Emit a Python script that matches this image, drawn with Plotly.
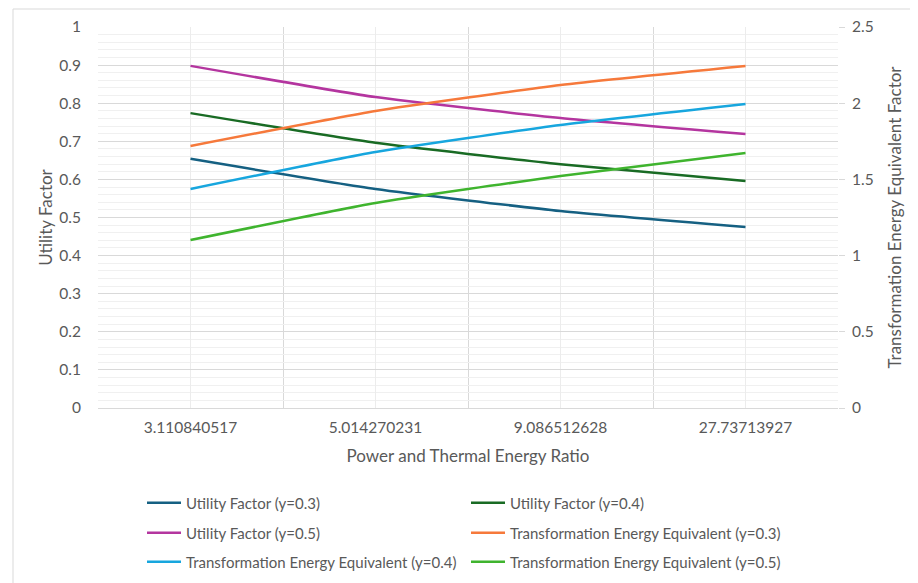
import plotly.graph_objects as go

categories = ["3.110840517", "5.014270231", "9.086512628", "27.73713927"]

uf_y03 = [0.654, 0.575, 0.517, 0.475]
uf_y04 = [0.774, 0.696, 0.640, 0.596]
uf_y05 = [0.898, 0.816, 0.761, 0.719]
tee_y03 = [1.719, 1.949, 2.119, 2.244]
tee_y04 = [1.437, 1.680, 1.857, 1.995]
tee_y05 = [1.102, 1.345, 1.522, 1.673]

left_ticks = [0, 0.1, 0.2, 0.3, 0.4, 0.5, 0.6, 0.7, 0.8, 0.9, 1]
right_ticks = [0, 0.5, 1, 1.5, 2, 2.5]

# page body margin offset
OFF = 8
W, H = 918 - OFF, 583 - OFF
# plot area in screen pixels: x 98..838, y 27..408
L, R, T, B = 98 - OFF, W - (838 - OFF), 27 - OFF, H - (408 - OFF)
PW, PH = W - L - R, H - T - B

def px_x(sx):
    return (sx - OFF - L) / PW

def px_y(sy):
    return (H - B - (sy - OFF)) / PH

FONT = "Lato"
GRAY = "#595959"

xpos = list(range(len(categories)))

series = [
    ("Utility Factor (y=0.3)", uf_y03, "#156082", "y", "legend"),
    ("Utility Factor (y=0.4)", uf_y04, "#196B24", "y", "legend"),
    ("Utility Factor (y=0.5)", uf_y05, "#B4359F", "y", "legend2"),
    ("Transformation Energy Equivalent (y=0.3)", tee_y03, "#F6793B", "y2", "legend2"),
    ("Transformation Energy Equivalent (y=0.4)", tee_y04, "#17A6DE", "y2", "legend3"),
    ("Transformation Energy Equivalent (y=0.5)", tee_y05, "#3FB42E", "y2", "legend3"),
]

fig = go.Figure()
for name, vals, color, yax, leg in series:
    fig.add_trace(go.Scatter(
        x=xpos, y=vals, name=name, mode="lines", yaxis=yax, legend=leg,
        line=dict(color=color, width=2.5, shape="spline", smoothing=0.5),
    ))

legend_common = dict(
    orientation="h", xanchor="left", yanchor="middle",
    font=dict(family=FONT, size=15, color=GRAY),
    entrywidth=275, entrywidthmode="pixels",
    bgcolor="rgba(0,0,0,0)", itemwidth=34,
)
fig.update_layout(
    width=W, height=H,
    margin=dict(l=L, r=R, t=T, b=B, autoexpand=False),
    paper_bgcolor="white", plot_bgcolor="white",
    font=dict(family=FONT, size=15, color=GRAY),
    xaxis=dict(
        range=[-0.5, 3.5], tickmode="array", tickvals=xpos, ticktext=categories,
        showgrid=True, gridcolor="#ececec", gridwidth=1,
        minor=dict(tickmode="array", tickvals=[-0.5, 0.5, 1.5, 2.5, 3.5],
                   showgrid=True, gridcolor="#d9d9d9", gridwidth=1, ticks=""),
        showline=True, linecolor="#d9d9d9", linewidth=1,
        ticks="", ticklabelstandoff=5, zeroline=False,
        tickfont=dict(family=FONT, size=15.5, color=GRAY),
        title=dict(text="Power and Thermal Energy Ratio", standoff=15,
                   font=dict(family=FONT, size=17, color=GRAY)),
    ),
    yaxis=dict(
        range=[0, 1], tickmode="array", tickvals=left_ticks,
        ticktext=[f"{v:g}" for v in left_ticks],
        showgrid=True, gridcolor="#d9d9d9", gridwidth=1,
        minor=dict(dtick=0.02, showgrid=True, gridcolor="#f0f0f0", gridwidth=1),
        zeroline=False, showline=False, ticks="", ticklabelstandoff=16,
        tickfont=dict(family=FONT, size=15.5, color=GRAY),
        title=dict(text="Utility Factor", standoff=2,
                   font=dict(family=FONT, size=17, color=GRAY)),
    ),
    yaxis2=dict(
        range=[0, 2.5], overlaying="y", side="right",
        tickmode="array", tickvals=right_ticks,
        ticktext=[f"{v:g}" for v in right_ticks],
        showgrid=False, zeroline=False, showline=False,
        ticks="outside", ticklen=6, tickcolor="#d9d9d9", ticklabelstandoff=4,
        tickfont=dict(family=FONT, size=15.5, color=GRAY),
        title=dict(text="Transformation Energy Equivalent Factor", standoff=16,
                   font=dict(family=FONT, size=17, color=GRAY)),
    ),
    legend=dict(x=px_x(142), y=px_y(503), **legend_common),
    legend2=dict(x=px_x(142), y=px_y(533), **legend_common),
    legend3=dict(x=px_x(142), y=px_y(562), **legend_common),
    shapes=[dict(type="rect", xref="paper", yref="paper",
                 x0=px_x(13), x1=px_x(940), y0=px_y(9), y1=px_y(600),
                 line=dict(color="#d9d9d9", width=1), layer="below")],
)

fig.write_html("out.html")
